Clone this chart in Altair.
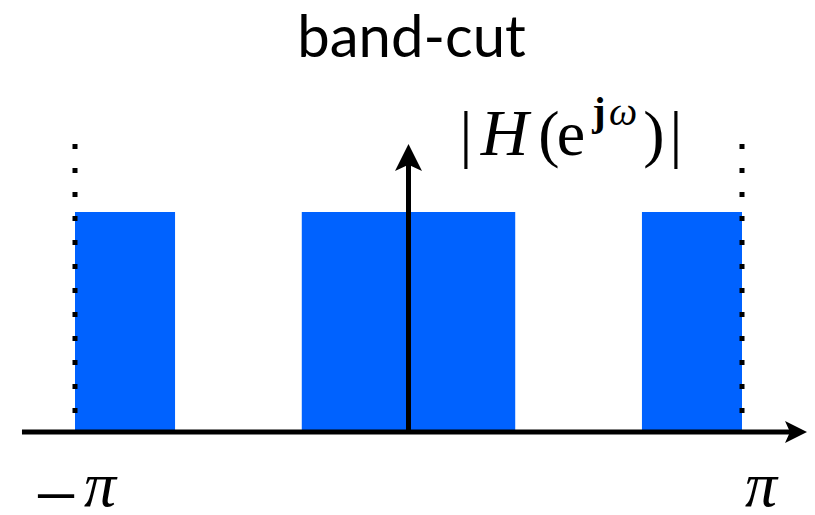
import altair as alt
import pandas as pd

# pass bands of the band-cut filter (in units of pi)
band_start = [-1.0, -0.32, 0.70]
band_end = [-0.70, 0.32, 1.0]
band_gain = [1.0, 1.0, 1.0]

# frequency limits (in units of pi) marked with dotted lines
edge_x = [-1.0, 1.0]
edge_top = 1.309

# axis arrows
h_axis = [-1.159, 1.15]
h_head_x = 1.162
v_axis = [0.0, 1.24]
v_head_y = 1.248
label_y = 1.259
tick_label_y = -0.336
title_y = 1.7045

x_dom = [-1.2009, 1.1949]
y_dom = [-0.3409, 1.9273]

X = alt.Scale(domain=x_dom, nice=False, zero=False)
Y = alt.Scale(domain=y_dom, nice=False, zero=False)
BLUE = "#0062ff"
SERIF = "Liberation Serif"


def enc(ch):
    return ch.encode(x=alt.X("x:Q", scale=X, axis=None), y=alt.Y("y:Q", scale=Y, axis=None))


bands = pd.DataFrame({"x": band_start, "x2": band_end, "y": band_gain, "y0": [0.0] * 3})
bars = alt.Chart(bands).mark_rect(color=BLUE).encode(
    x=alt.X("x:Q", scale=X, axis=None), x2="x2:Q",
    y=alt.Y("y:Q", scale=Y, axis=None), y2="y0:Q")

edges = pd.DataFrame({"x": edge_x, "top": [edge_top] * 2, "bot": [0.0] * 2})
dots = alt.Chart(edges).mark_rule(color="black", strokeWidth=5, strokeDash=[5, 19]).encode(
    x=alt.X("x:Q", scale=X, axis=None),
    y=alt.Y("top:Q", scale=Y, axis=None), y2="bot:Q")

hline = alt.Chart(pd.DataFrame({"x": [h_axis[0]], "x2": [h_axis[1]], "y": [0.0]})).mark_rule(
    color="black", strokeWidth=5).encode(
    x=alt.X("x:Q", scale=X, axis=None), x2="x2:Q", y=alt.Y("y:Q", scale=Y, axis=None))
vline = alt.Chart(pd.DataFrame({"x": [0.0], "y": [v_axis[0]], "y2": [v_axis[1]]})).mark_rule(
    color="black", strokeWidth=5).encode(
    x=alt.X("x:Q", scale=X, axis=None), y=alt.Y("y:Q", scale=Y, axis=None), y2="y2:Q")

right_head = enc(alt.Chart(pd.DataFrame({"x": [h_head_x], "y": [0.0]})).mark_point(
    shape="M1,0L-1,-1L-0.55,0L-1,1Z", filled=True, color="black", opacity=1,
    size=484, strokeWidth=0))
up_head = enc(alt.Chart(pd.DataFrame({"x": [0.0], "y": [v_head_y]})).mark_point(
    shape="M0,-1L-1,1L0,0.55L1,1Z", filled=True, color="black", opacity=1,
    size=729, strokeWidth=0))

layers = []

# title
layers.append(enc(alt.Chart(pd.DataFrame({"x": [0.0], "y": [title_y], "t": ["band-cut"]})).mark_text(
    align="center", baseline="alphabetic", font="Lato", fontSize=58, dx=3, color="black"
).encode(text="t:N")))

# |H(e^{jw})| label, assembled from pieces (text, dx, dy, size, style, weight)
pieces = [
    ("|", 57.5, 0, 64, "normal", "normal"),
    ("H", 96, 0, 66, "italic", "normal"),
    ("(", 140.5, 0, 64, "normal", "normal"),
    ("e", 162.5, 0, 64, "normal", "normal"),
    ("j", 190.5, -30, 40, "normal", "bold"),
    ("ω", 214.5, -30, 40, "italic", "normal"),
    (")", 245.5, 0, 64, "normal", "normal"),
    ("|", 267.5, 0, 64, "normal", "normal"),
]
for txt, dx, dy, fs, style, weight in pieces:
    layers.append(enc(alt.Chart(pd.DataFrame({"x": [0.0], "y": [label_y], "t": [txt]})).mark_text(
        align="center", baseline="alphabetic", font=SERIF, fontSize=fs, fontStyle=style,
        fontWeight=weight, dx=dx, dy=dy, color="black").encode(text="t:N")))

tick_pieces = [
    (-1.0, "−", -19, 16, 78, "normal"),
    (-1.0, "π", 25, 0, 64, "italic"),
    (1.0, "π", 19, 0, 64, "italic"),
]
for xv, txt, dx, dy, fs, style in tick_pieces:
    layers.append(enc(alt.Chart(pd.DataFrame({"x": [xv], "y": [tick_label_y], "t": [txt]})).mark_text(
        align="center", baseline="alphabetic", font=SERIF, fontSize=fs, fontStyle=style,
        dx=dx, dy=dy, color="black").encode(text="t:N")))

chart = alt.layer(bars, dots, hline, vline, right_head, up_head, *layers).properties(
    width=799, height=499,
    autosize=alt.AutoSizeParams(type="none"),
    padding=0,
).configure_view(stroke=None)

chart.save("out.html", embed_options={"renderer": "svg", "actions": False})
